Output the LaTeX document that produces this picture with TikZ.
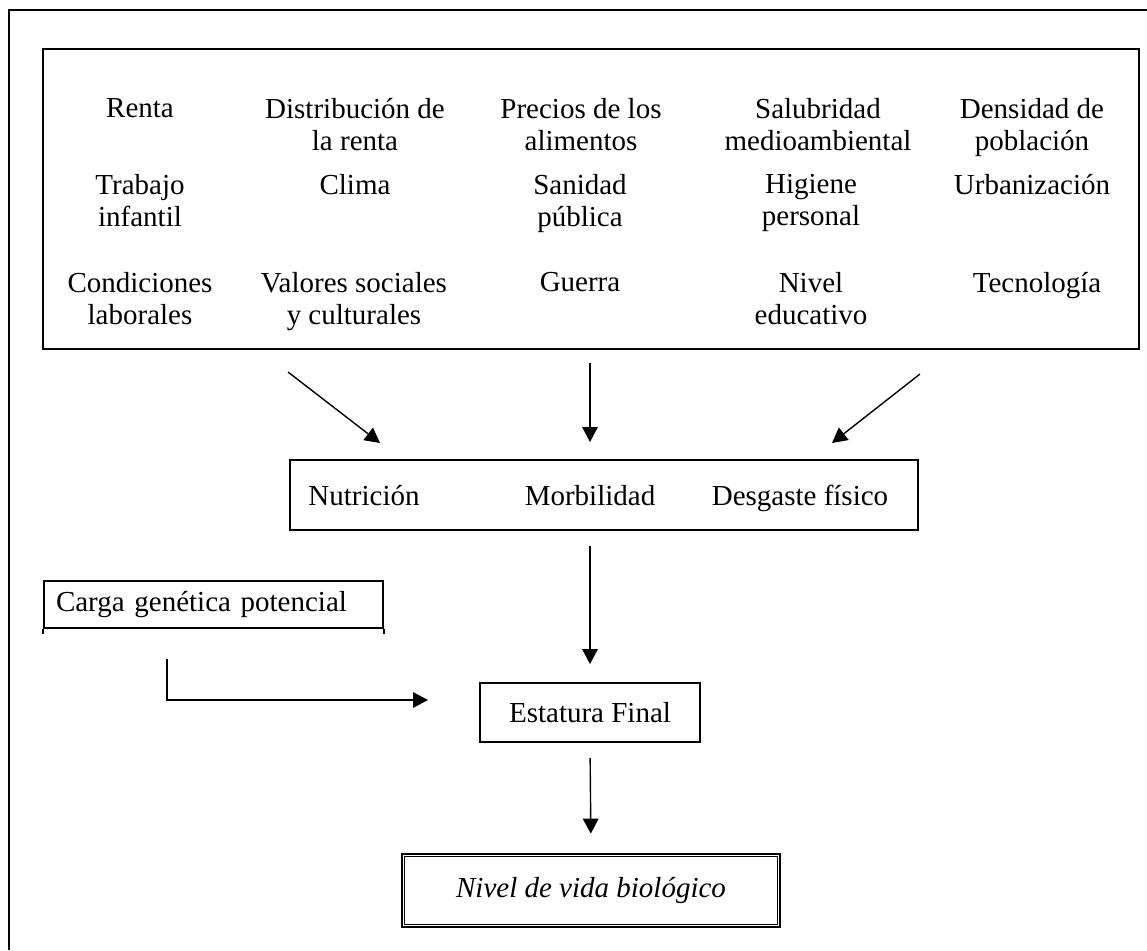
\documentclass[tikz,border=0pt]{standalone}
\usepackage{fontspec}
\setmainfont{Liberation Serif}
\usetikzlibrary{arrows.meta}
\begin{document}
\begin{tikzpicture}[x=0.5pt,y=-0.5pt,
  box/.style={draw,line width=1pt,inner sep=0pt},
  item/.style={align=center,anchor=north,inner sep=0pt,font=\fontsize{14.5}{16}\selectfont},
  lbl/.style={anchor=base,inner sep=0pt,font=\fontsize{14.5}{16}\selectfont},
  arr/.style={line width=0.7pt,-{Triangle[length=7.5pt,width=7.8pt]}},
  frame/.style={line width=1pt}]
\useasboundingbox (0,0) rectangle (1147,950);
% outer frame (top and left only)
\draw[frame] (1147,10) -- (9,10) -- (9,950);
% top box of factors
\node[box, minimum width=548pt, minimum height=150.25pt] (factors) at (591,198.75) {};
\node[item] (f11) at (140,98) {Renta};
\node[item] (f12) at (355,98) {Distribución de\\la renta};
\node[item] (f13) at (581,98) {Precios de los\\alimentos};
\node[item] (f14) at (818,98) {Salubridad\\medioambiental};
\node[item] (f15) at (1032,98) {Densidad de\\población};
\node[item] (f21) at (140,174) {Trabajo\\infantil};
\node[item] (f22) at (355,174) {Clima};
\node[item] (f23) at (580,174) {Sanidad\\pública};
\node[item] (f24) at (811,174) {Higiene\\personal};
\node[item] (f25) at (1032,174) {Urbanización};
\node[item] (f31) at (140,272) {Condiciones\\laborales};
\node[item] (f32) at (354,272) {Valores sociales\\y culturales};
\node[item] (f33) at (580,272) {Guerra};
\node[item] (f34) at (811,272) {Nivel\\educativo};
\node[item] (f35) at (1037,272) {Tecnología};
% middle box
\node[box, minimum width=314pt, minimum height=35pt] (mid) at (604,495) {};
\node[lbl] (nut) at (364,505) {Nutrición};
\node[lbl] (mor) at (590,505) {Morbilidad};
\node[lbl] (des) at (800,505) {Desgaste físico};
% genetic load box
\node[box, text width=157.5pt, inner xsep=6pt, inner ysep=0pt, minimum height=23.5pt, align=left,
      font=\fontsize{14.5}{16}\selectfont] (carga) at (213.5,604.5) {Carga genética potencial};
\draw[frame] (carga.south west) -- ++(0,5);
\draw[frame] (carga.south east) -- ++(0,5);
% final height box
\node[box, minimum width=110pt, minimum height=29.5pt, font=\fontsize{14.5}{16}\selectfont] (est) at (590,712.5) {Estatura Final};
% biological standard of living box (double frame)
\node[draw, line width=1.35pt, inner sep=0pt, minimum width=189pt, minimum height=36.5pt,
      font=\fontsize{14.5}{16}\selectfont\itshape] (nivel) at (591,890.5) {Nivel de vida biológico};
\draw[line width=0.6pt] ([xshift=2pt,yshift=2pt]nivel.south west) rectangle ([xshift=-2pt,yshift=-2pt]nivel.north east);
% arrows from factors to middle box
\coordinate (a1s) at (288,372);
\coordinate (a1e) at (380,443);
\coordinate (a3s) at (920,374);
\coordinate (a3e) at (832,443);
\draw[arr] (a1s) -- (a1e);
\draw[arr, shorten <=6.5pt, shorten >=8.5pt] (factors.south -| est.north) -- (mid.north -| est.north);
\draw[arr] (a3s) -- (a3e);
% middle to final height
\draw[arr, shorten <=7.5pt, shorten >=9pt] (mid.south -| est.north) -- (est.north);
% genetic load elbow
\coordinate (g1) at (167,659);
\coordinate (g2) at (428,700);
\draw[arr] (g1) |- (g2);
% final height to biological standard
\draw[arr, shorten <=7.5pt, shorten >=9.5pt] (est.south) -- (nivel.north);
\end{tikzpicture}
\end{document}
